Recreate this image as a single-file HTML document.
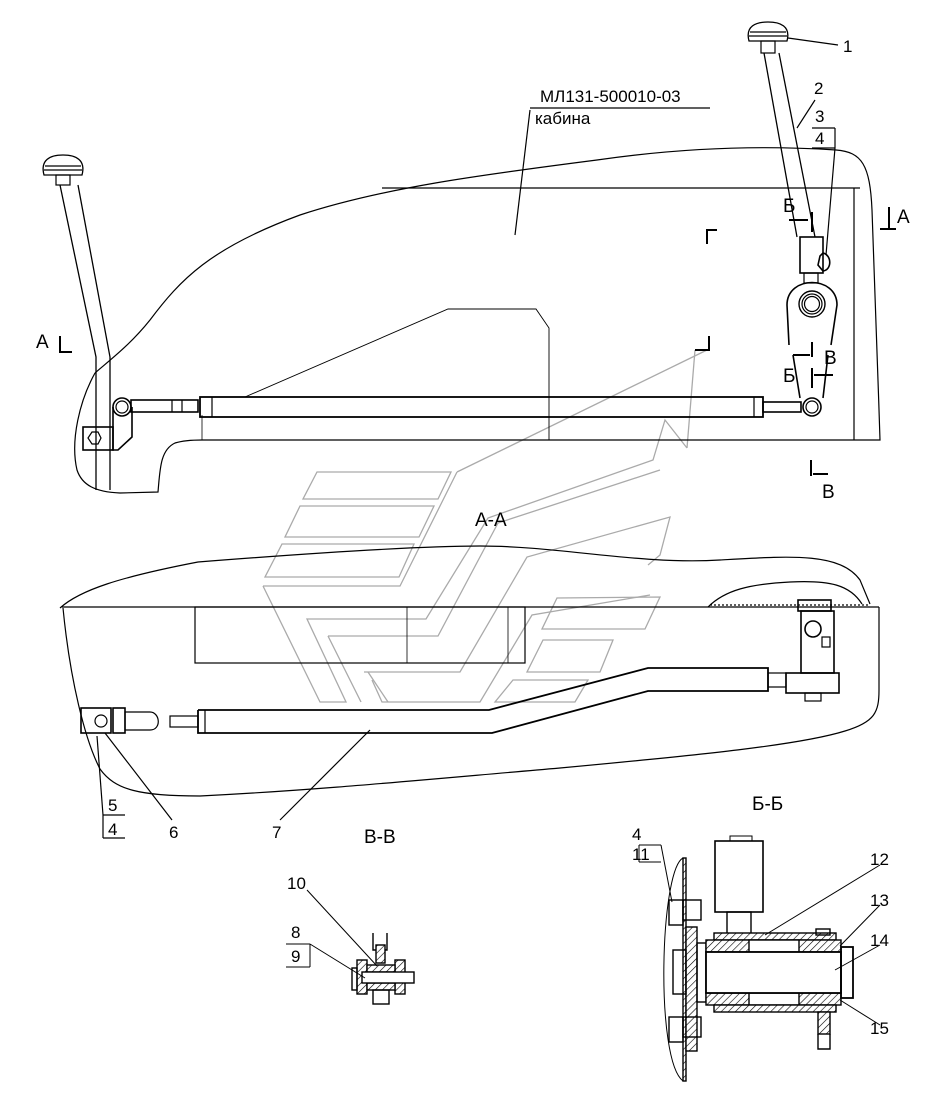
<!DOCTYPE html>
<html><head><meta charset="utf-8"><style>
html,body{margin:0;padding:0;background:#fff}
svg{display:block}
text{font-family:"Liberation Sans",sans-serif;fill:#000}
</style></head><body>
<svg width="936" height="1101" viewBox="0 0 936 1101" xmlns="http://www.w3.org/2000/svg">
<defs>
<pattern id="h" width="5" height="5" patternUnits="userSpaceOnUse" patternTransform="rotate(45)">
<rect width="5" height="5" fill="#fff"/><line x1="0" y1="0" x2="0" y2="5" stroke="#000" stroke-width="1.2"/></pattern>
</defs>
<!-- watermark -->
<g fill="none" stroke="#aaa" stroke-width="1.3">
<polygon points="317,472 451,472 438,499 303,499"/>
<polygon points="300,506 434,506 419,537 285,537"/>
<polygon points="282,544 414,544 399,577 265,577"/>
<polyline points="457,472 707,350"/>
<polyline points="687,448 695,350"/>
<polyline points="263,586 400,586 457,472"/>
<polyline points="263,586 320,702 346,702 307,619 426,619 488,518 653,460 665,420 687,448"/>
<polyline points="328,636 438,636 498,523 660,470"/>
<polyline points="361,702 328,636"/>
<polyline points="364,672 460,672 527,557 670,517 660,555 648,565"/>
<polyline points="372,680 382,702 480,702 532,615 650,595"/>
<polyline points="368,672 388,702"/>
<polygon points="557,598 660,597 645,629 542,629"/>
<polygon points="543,640 613,640 600,672 527,672"/>
<polygon points="513,680 588,680 575,702 495,702"/>
</g>
<g fill="none" stroke="#000" stroke-width="1.2">
<!-- top view cab -->
<path d="M95,373 C80,400 70,440 77,470 C82,485 95,492 120,493 L158,492 C160,470 160,450 175,443 C185,440 195,440 202,440 L880,440 C877,350 874,250 872,210 C870,165 862,152 836,150 C760,145 680,148 597,160 C480,175 382,188 300,215 C210,248 180,280 150,320 C130,345 110,360 95,373"/>
<line x1="382" y1="188" x2="860" y2="188"/>
<line x1="854" y1="188" x2="854" y2="440"/>
<polyline points="245,397 448,309 536,309 549,328 549,440" stroke-width="0.9"/>
<line x1="202" y1="415" x2="202" y2="440" stroke-width="0.8"/>
<!-- left lever -->
<path d="M60,185 L96,357 L96,490 M78,185 L110,357 L110,490" stroke-width="1.3"/>
<path d="M44,175 C40,160 50,155 63,155 C76,155 86,160 82,175 Z" stroke-width="1.3"/>
<rect x="56" y="175" width="14" height="10"/>
<line x1="45" y1="166" x2="81" y2="166"/><line x1="44" y1="170" x2="82" y2="170"/>
<circle cx="122" cy="407" r="9" stroke-width="1.6"/><circle cx="122" cy="407" r="6"/>
<rect x="83" y="427" width="30" height="23" stroke-width="1.6"/>
<polygon points="88,438 92,432 98,432 101,438 98,444 92,444"/>
<polyline points="113,407 113,450 118,450 132,437 132,407" stroke-width="1.6"/>
<rect x="131" y="400" width="67" height="12" stroke-width="1.6"/>
<line x1="172" y1="400" x2="172" y2="412"/><line x1="182" y1="400" x2="182" y2="412"/>
<!-- tube -->
<rect x="200" y="397" width="563" height="20" stroke-width="1.8"/>
<line x1="212" y1="397" x2="212" y2="417"/><line x1="754" y1="397" x2="754" y2="417"/>
<rect x="763" y="402" width="38" height="10" stroke-width="1.6"/>
<!-- right lever -->
<path d="M764,53 L797,237 M779,53 L815,237" stroke-width="1.3"/>
<path d="M749,41 C745,26 756,22 768,22 C780,22 791,26 787,41 Z" stroke-width="1.3"/>
<rect x="761" y="41" width="14" height="12"/>
<line x1="750" y1="32" x2="786" y2="32"/><line x1="749" y1="36" x2="787" y2="36"/>
<rect x="800" y="237" width="23" height="36" stroke-width="1.6"/>
<path d="M823,253 C832,255 832,270 823,271 L818,265 L820,256 Z" stroke-width="1.6"/>
<rect x="804" y="273" width="14" height="10"/>
<path d="M789,345 L787,305 C787,275 837,275 837,305 L831,345 M793,355 L800,398 M828,355 L823,398" stroke-width="1.6"/>
<circle cx="812" cy="304" r="13" stroke-width="1.4"/><circle cx="812" cy="304" r="10"/><circle cx="812" cy="304" r="7.5"/>
<circle cx="812" cy="407" r="9" stroke-width="1.6"/><circle cx="812" cy="407" r="6"/>
<!-- leaders top -->
<line x1="530" y1="108" x2="710" y2="108"/>
<line x1="530" y1="110" x2="515" y2="235"/>
<line x1="788" y1="38" x2="838" y2="45"/>
<line x1="797" y1="128" x2="815" y2="100"/>
<line x1="812" y1="128" x2="835" y2="128"/>
<line x1="835" y1="128" x2="835" y2="148"/><line x1="812" y1="148" x2="835" y2="148"/>
<path d="M835,148 L826,255"/>
</g>
<!-- section marks -->
<g stroke="#000" stroke-width="2" fill="none">
<path d="M707,244 L707,230 L717,230"/>
<path d="M695,350 L709,350 L709,336"/>
<path d="M60,336 L60,352 L72,352"/>
<path d="M889,207 L889,229 M880,229 L896,229"/>
<path d="M812,212 L812,232 M789,220 L808,220"/>
<path d="M812,342 L812,357 M793,355 L810,355"/>
<path d="M812,368 L812,388 M814,375 L833,375"/>
<path d="M811,460 L811,476 M813,474 L828,474"/>
</g>
<g font-size="19">
<text x="540" y="102" font-size="17">МЛ131-500010-03</text>
<text x="535" y="124" font-size="17">кабина</text>
<text x="843" y="52" font-size="17">1</text>
<text x="814" y="94" font-size="17">2</text>
<text x="815" y="122" font-size="17">3</text>
<text x="815" y="144" font-size="17">4</text>
<text x="783" y="212">Б</text>
<text x="897" y="223">А</text>
<text x="36" y="348">А</text>
<text x="824" y="364">В</text>
<text x="783" y="382">Б</text>
<text x="822" y="498">В</text>
<text x="475" y="526">А-А</text>
<text x="752" y="810">Б-Б</text>
<text x="364" y="843">В-В</text>
</g>
<!-- A-A view -->
<g fill="none" stroke="#000" stroke-width="1.2">
<path d="M60,608 C80,590 120,577 198,562 C300,554 420,546 480,546 C560,546 640,565 720,560 C790,556 840,552 860,580 L870,604"/>
<line x1="62" y1="607" x2="879" y2="607"/>
<path d="M708,607 C725,590 750,584 790,582 C830,580 850,585 862,604"/>
<line x1="710" y1="605" x2="868" y2="605" stroke-dasharray="2,2"/>
<path d="M63,608 C70,680 85,740 100,769 C115,790 140,796 200,796 C320,790 420,780 560,768 C700,755 800,745 845,731 C875,722 879,712 879,690 L879,607"/>
<rect x="195" y="607" width="330" height="56"/>
<line x1="407" y1="607" x2="407" y2="663" stroke-width="0.8"/>
<line x1="508" y1="607" x2="508" y2="663" stroke-width="0.8"/>
<polyline points="198,710 489,710 648,668 768,668 768,691 648,691 492,733 198,733 198,710" stroke-width="1.8"/>
<line x1="205" y1="710" x2="205" y2="733"/>
<rect x="768" y="673" width="18" height="14"/>
<rect x="786" y="673" width="53" height="20" stroke-width="1.6"/>
<rect x="801" y="611" width="33" height="62" stroke-width="1.6"/>
<circle cx="813" cy="629" r="8" stroke-width="1.6"/>
<rect x="798" y="600" width="33" height="11" stroke-width="1.6"/>
<rect x="805" y="693" width="16" height="8"/>
<rect x="822" y="637" width="8" height="10"/>
<rect x="81" y="708" width="30" height="25" stroke-width="1.6"/>
<circle cx="101" cy="721" r="6"/>
<rect x="113" y="708" width="12" height="25" stroke-width="1.6"/>
<path d="M125,712 L150,712 C160,712 162,730 150,730 L125,730 Z"/>
<rect x="170" y="716" width="28" height="11"/>
<line x1="105" y1="733" x2="172" y2="820"/>
<line x1="370" y1="730" x2="280" y2="820"/>
<line x1="97" y1="736" x2="103" y2="815"/>
<line x1="103" y1="815" x2="125" y2="815"/>
<line x1="103" y1="815" x2="103" y2="838"/><line x1="103" y1="838" x2="125" y2="838"/>
</g>
<g font-size="17">
<text x="108" y="811">5</text><text x="108" y="835">4</text>
<text x="169" y="838">6</text><text x="272" y="838">7</text>
</g>
<!-- В-В detail -->
<g stroke="#000" stroke-width="1.4" fill="none">
<path d="M373,933 L373,950 L387,950 L387,933"/>
<rect x="376" y="945" width="9" height="18" fill="url(#h)"/>
<rect x="357" y="960" width="10" height="34" fill="url(#h)"/>
<rect x="395" y="960" width="10" height="34" fill="url(#h)"/>
<rect x="352" y="968" width="5" height="22"/>
<rect x="367" y="965" width="28" height="7" fill="url(#h)"/>
<rect x="367" y="983" width="28" height="7" fill="url(#h)"/>
<rect x="362" y="972" width="52" height="11" fill="#fff"/>
<rect x="373" y="990" width="16" height="14"/>
<line x1="307" y1="890" x2="377" y2="966" stroke-width="1"/>
<line x1="286" y1="944" x2="310" y2="944" stroke-width="1"/>
<line x1="310" y1="944" x2="310" y2="967" stroke-width="1"/><line x1="286" y1="967" x2="310" y2="967" stroke-width="1"/>
<line x1="310" y1="944" x2="365" y2="978" stroke-width="1"/>
</g>
<g font-size="17">
<text x="287" y="889">10</text><text x="291" y="938">8</text><text x="291" y="962">9</text>
</g>
<!-- Б-Б detail -->
<g stroke="#000" stroke-width="1.4" fill="none">
<path d="M683,858 C660,870 655,1060 683,1081" stroke-width="1"/>
<rect x="683" y="858" width="3" height="223" fill="url(#h)"/>
<rect x="686" y="927" width="11" height="124" fill="url(#h)"/>
<rect x="669" y="900" width="14" height="25"/>
<rect x="683" y="900" width="18" height="20"/>
<rect x="669" y="1017" width="14" height="25"/>
<rect x="683" y="1017" width="18" height="20"/>
<rect x="673" y="950" width="13" height="44"/>
<rect x="697" y="943" width="9" height="59"/>
<rect x="715" y="841" width="48" height="71" stroke-width="1.6"/>
<path d="M730,841 L730,836 L752,836 L752,841" stroke-width="1"/>
<rect x="727" y="912" width="24" height="22"/>
<rect x="714" y="933" width="122" height="7" fill="url(#h)"/>
<rect x="816" y="929" width="14" height="6"/>
<rect x="706" y="940" width="135" height="12" fill="url(#h)"/>
<rect x="706" y="993" width="135" height="12" fill="url(#h)"/>
<rect x="749" y="940" width="50" height="12" fill="#fff"/>
<rect x="749" y="993" width="50" height="12" fill="#fff"/>
<rect x="714" y="1005" width="122" height="7" fill="url(#h)"/>
<rect x="706" y="952" width="135" height="41" fill="#fff" stroke-width="1.8"/>
<rect x="841" y="947" width="12" height="51" stroke-width="1.8"/>
<rect x="818" y="1012" width="12" height="22" fill="url(#h)"/>
<path d="M818,1034 L818,1049 L830,1049 L830,1034"/>
<line x1="639" y1="845" x2="661" y2="845" stroke-width="1"/>
<line x1="639" y1="845" x2="639" y2="862" stroke-width="1"/><line x1="639" y1="862" x2="661" y2="862" stroke-width="1"/>
<line x1="661" y1="845" x2="672" y2="902" stroke-width="1"/>
<line x1="880" y1="865" x2="765" y2="935" stroke-width="1"/>
<line x1="880" y1="905" x2="840" y2="946" stroke-width="1"/>
<line x1="880" y1="945" x2="835" y2="970" stroke-width="1"/>
<line x1="880" y1="1025" x2="840" y2="1000" stroke-width="1"/>
</g>
<g font-size="17">
<text x="632" y="840">4</text><text x="632" y="860">11</text>
<text x="870" y="865">12</text><text x="870" y="906">13</text><text x="870" y="946">14</text><text x="870" y="1034">15</text>
</g>
</svg>
</body></html>
